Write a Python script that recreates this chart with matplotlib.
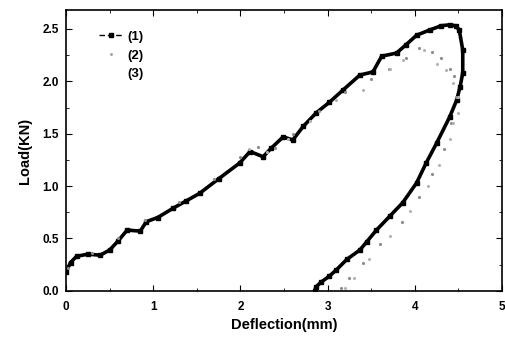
import matplotlib.pyplot as plt
from matplotlib.ticker import MultipleLocator
from matplotlib.lines import Line2D

# curve (1): loading then unloading
x1 = [0.0, 0.05, 0.12, 0.25, 0.39, 0.5, 0.6, 0.7, 0.85, 0.92, 1.05, 1.23, 1.38, 1.53, 1.75, 1.99,
      2.11, 2.26, 2.35, 2.49, 2.60, 2.72, 2.87, 3.02, 3.18, 3.37, 3.52, 3.62, 3.79, 3.90, 4.02, 4.17,
      4.30, 4.40, 4.47, 4.51, 4.55, 4.55, 4.52, 4.48, 4.40, 4.25, 4.13, 4.02, 3.86, 3.71, 3.56, 3.45,
      3.37, 3.22, 3.10, 3.02, 2.92, 2.87, 2.85]
y1 = [0.18, 0.27, 0.33, 0.35, 0.34, 0.39, 0.48, 0.58, 0.57, 0.66, 0.70, 0.79, 0.86, 0.93, 1.07, 1.22,
      1.33, 1.28, 1.36, 1.47, 1.44, 1.57, 1.70, 1.80, 1.92, 2.06, 2.09, 2.24, 2.27, 2.35, 2.44, 2.49,
      2.53, 2.54, 2.53, 2.49, 2.30, 2.08, 1.95, 1.82, 1.66, 1.41, 1.22, 1.03, 0.84, 0.71, 0.58, 0.47,
      0.39, 0.30, 0.20, 0.14, 0.08, 0.04, 0.0]

# curve (2)
x2 = [0.02, 0.3, 0.6, 0.9, 1.3, 1.7, 2.0, 2.2, 2.4, 2.6, 2.9, 3.2, 3.5, 3.7, 3.9, 4.05, 4.2, 4.3,
      4.4, 4.45, 4.47, 4.42, 4.33, 4.2, 4.05, 3.85, 3.6, 3.4, 3.25, 3.15]
y2 = [0.22, 0.36, 0.5, 0.68, 0.85, 1.07, 1.28, 1.37, 1.36, 1.50, 1.72, 1.90, 2.02, 2.12, 2.22, 2.32,
      2.28, 2.22, 2.12, 2.05, 1.85, 1.60, 1.35, 1.12, 0.90, 0.66, 0.45, 0.27, 0.12, 0.03]

# curve (3)
x3 = [2.1, 2.3, 2.55, 2.8, 3.1, 3.41, 3.71, 3.86, 4.1, 4.25, 4.36, 4.44, 4.5, 4.5, 4.44, 4.4,
      4.28, 4.15, 3.95, 3.72, 3.48, 3.3, 3.2]
y3 = [1.35, 1.33, 1.45, 1.62, 1.82, 1.92, 2.12, 2.20, 2.30, 2.17, 2.11, 1.98, 1.85, 1.70, 1.60, 1.45,
      1.20, 1.0, 0.76, 0.52, 0.30, 0.12, 0.03]

plt.rcParams['font.family'] = ['Liberation Sans', 'DejaVu Sans']
plt.rcParams['font.weight'] = 'bold'

fig = plt.figure(figsize=(5.05, 3.37), dpi=100)
ax = fig.add_axes([0.131, 0.137, 0.863, 0.833])

ax.plot(x1, y1, '-', color='black', lw=2.6, marker='s', ms=3)
ax.plot(x2, y2, ' ', color='0.55', marker='.', ms=2.5)
ax.plot(x3, y3, ' ', color='0.7', marker='.', ms=2.5)

ax.set_xlim(0, 5)
ax.set_ylim(0, 2.68)
ax.xaxis.set_major_locator(MultipleLocator(1))
ax.xaxis.set_minor_locator(MultipleLocator(0.5))
ax.yaxis.set_major_locator(MultipleLocator(0.5))
ax.yaxis.set_minor_locator(MultipleLocator(0.25))
ax.tick_params(which='both', direction='in', top=True, right=True, labelsize=8.5)
ax.tick_params(axis='x', pad=7)
ax.tick_params(axis='y', pad=5)
ax.tick_params(which='major', length=4)
ax.tick_params(which='minor', length=2)
for s in ax.spines.values():
    s.set_linewidth(1.2)

ax.set_xlabel('Deflection(mm)', fontsize=10.5, fontweight='bold', labelpad=4)
ax.set_ylabel('Load(KN)', fontsize=10.5, fontweight='bold', labelpad=8)

handles = [Line2D([], [], color='black', lw=1, ls=(0, (4, 2)), marker='s', ms=3),
           Line2D([], [], color='0.6', ls=' ', marker='.', ms=2),
           Line2D([], [], color='0.7', ls=' ', marker='.', ms=0)]
ax.legend(handles, ['(1)', '(2)', '(3)'], loc='upper left', frameon=False, fontsize=9.5,
          handlelength=1.8, handletextpad=0.3, borderaxespad=0.3, labelspacing=0.5,
          bbox_to_anchor=(0.055, 0.96))

fig.savefig('out.png', dpi=100)
